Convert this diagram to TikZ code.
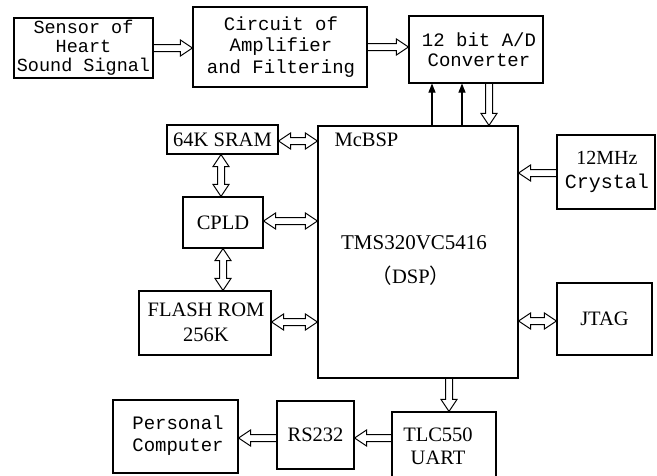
\documentclass[tikz,border=0pt]{standalone}
\usepackage{fontspec}
\setmainfont{Liberation Serif}
\newfontfamily\monof{Liberation Mono}
\newfontfamily\cjk{Noto Sans CJK SC}
\usetikzlibrary{calc,arrows.meta}
\tikzset{
  box/.style={draw, line width=1.1pt, inner sep=0pt, align=center},
  mono/.style={font=\monof\fontsize{18.5}{19}\selectfont},
  ser/.style={font=\fontsize{20.5}{25}\selectfont},
  thin/.style={line width=1.1pt, -{Triangle[length=9pt,width=7pt]}},
  fat/.style={line width=1pt, to path={
    ($(\tikztostart)!3.5pt!90:(\tikztotarget)$)
    -- ($(\tikztotarget)!12pt!(\tikztostart)!3.5pt!-90:(\tikztostart)$)
    -- ($(\tikztotarget)!12pt!(\tikztostart)!8pt!-90:(\tikztostart)$)
    -- (\tikztotarget)
    -- ($(\tikztotarget)!12pt!(\tikztostart)!8pt!90:(\tikztostart)$)
    -- ($(\tikztotarget)!12pt!(\tikztostart)!3.5pt!90:(\tikztostart)$)
    -- ($(\tikztostart)!3.5pt!-90:(\tikztotarget)$)}},
  fatboth/.style={line width=1pt, to path={
    ($(\tikztostart)!12pt!(\tikztotarget)!3.5pt!90:(\tikztotarget)$)
    -- ($(\tikztotarget)!12pt!(\tikztostart)!3.5pt!-90:(\tikztostart)$)
    -- ($(\tikztotarget)!12pt!(\tikztostart)!8pt!-90:(\tikztostart)$)
    -- (\tikztotarget)
    -- ($(\tikztotarget)!12pt!(\tikztostart)!8pt!90:(\tikztostart)$)
    -- ($(\tikztotarget)!12pt!(\tikztostart)!3.5pt!90:(\tikztostart)$)
    -- ($(\tikztostart)!12pt!(\tikztotarget)!3.5pt!-90:(\tikztotarget)$)
    -- ($(\tikztostart)!12pt!(\tikztotarget)!8pt!-90:(\tikztotarget)$)
    -- (\tikztostart)
    -- ($(\tikztostart)!12pt!(\tikztotarget)!8pt!90:(\tikztotarget)$)
    -- cycle}},
}
\begin{document}
\begin{tikzpicture}[x=1pt,y=-1pt]
\useasboundingbox (0,0) rectangle (657,475);
\begin{scope}
\clip (0,0) rectangle (657,475);
% boxes
\node[box, mono, minimum width=139, minimum height=60] (sensor) at (83.5,48) {Sensor of\\Heart\\Sound Signal};
\node[box, minimum width=174, minimum height=80] (circuit) at (280,47) {};
\node[align=center, font=\monof\fontsize{19}{21.5}\selectfont] (circuittext) at (281,47) {Circuit of\\Amplifier\\and Filtering};
\node[box, minimum width=134, minimum height=67] (adc) at (476,49.5) {};
\node[align=center, font=\monof\fontsize{19}{20}\selectfont] (adctext) at (479,49.5) {12 bit A/D\\Converter};
\node[box, minimum width=200, minimum height=252] (dsp) at (418,252) {};
\node[ser, anchor=west] (mcbsp) at (331,140) {McBSP};
\node[ser, font=\fontsize{21}{25}\selectfont] (tms) at (414,243) {TMS320VC5416};
\node[ser] (dsplabel) at (411,276) {{\cjk （}DSP{\cjk ）}};
\node[box, ser, minimum width=111, minimum height=29] (sram) at (222.5,139.5) {64K SRAM};
\node[box, ser, minimum width=80, minimum height=51] (cpld) at (223,222.5) {CPLD};
\node[box, minimum width=132, minimum height=64] (flash) at (205,323) {};
\node[align=center, font=\fontsize{20.5}{25}\selectfont] (flashtext) at (206,322.5) {FLASH ROM\\256K};
\node[box, minimum width=98, minimum height=74] (crystal) at (606,172) {};
\node[align=center, font=\fontsize{20}{24}\selectfont] (crystaltext) at (607,172) {12MHz\\{\monof Crystal}};
\node[box, ser, minimum width=95, minimum height=72] (jtag) at (604.5,319) {JTAG};
\node[box, minimum width=125, minimum height=73] (pc) at (175.5,436.5) {};
\node[align=center, font=\monof\fontsize{19}{22}\selectfont] (pctext) at (178,436) {Personal\\Computer};
\node[box, ser, minimum width=77, minimum height=68] (rs) at (315.5,435) {RS232};
\node[box, minimum width=104, minimum height=68] (tlc) at (444,446) {};
\node[align=center, font=\fontsize{20.5}{23}\selectfont] (tlctext) at (438,446) {TLC550\\UART};
% connector end points
\coordinate (c1) at (sensor.east |- 0,48);
\coordinate (c2) at (circuit.west |- 0,48);
\coordinate (c3) at (circuit.east |- 0,47);
\coordinate (c4) at (adc.west |- 0,47);
\coordinate (a1) at (adc.south -| 489,0);
\coordinate (a2) at (dsp.north -| 489,0);
\coordinate (t1) at (dsp.north -| 432,0);
\coordinate (t2) at (adc.south -| 432,0);
\coordinate (t3) at (dsp.north -| 462,0);
\coordinate (t4) at (adc.south -| 462,0);
\coordinate (s1) at (sram.east |- 0,141);
\coordinate (s2) at (dsp.west |- 0,141);
\coordinate (s3) at (sram.south -| 221,0);
\coordinate (s4) at (cpld.north -| 221,0);
\coordinate (p1) at (cpld.east |- 0,221);
\coordinate (p2) at (dsp.west |- 0,221);
\coordinate (p3) at (cpld.south -| 223,0);
\coordinate (p4) at (flash.north -| 223,0);
\coordinate (f1) at (flash.east |- 0,322);
\coordinate (f2) at (dsp.west |- 0,322);
\coordinate (x1) at (crystal.west |- 0,173);
\coordinate (x2) at (dsp.east |- 0,173);
\coordinate (j1) at (jtag.west |- 0,321);
\coordinate (j2) at (dsp.east |- 0,321);
\coordinate (d1) at (dsp.south -| 449,0);
\coordinate (d2) at (tlc.north -| 449,0);
\coordinate (u1) at (tlc.west |- 0,438);
\coordinate (u2) at (rs.east |- 0,438);
\coordinate (r1) at (rs.west |- 0,438);
\coordinate (r2) at (pc.east |- 0,438);
% connectors
\draw[fat] (c1) to (c2);
\draw[fat] (c3) to (c4);
\draw[fat] (a1) to (a2);
\draw[thin] (t1) -- (t2);
\draw[thin] (t3) -- (t4);
\draw[fatboth] (s1) to (s2);
\draw[fatboth] (s3) to (s4);
\draw[fatboth] (p1) to (p2);
\draw[fatboth] (p3) to (p4);
\draw[fatboth] (f1) to (f2);
\draw[fat] (x1) to (x2);
\draw[fatboth] (j1) to (j2);
\draw[fat] (d1) to (d2);
\draw[fat] (u1) to (u2);
\draw[fat] (r1) to (r2);
\end{scope}
\end{tikzpicture}
\end{document}
